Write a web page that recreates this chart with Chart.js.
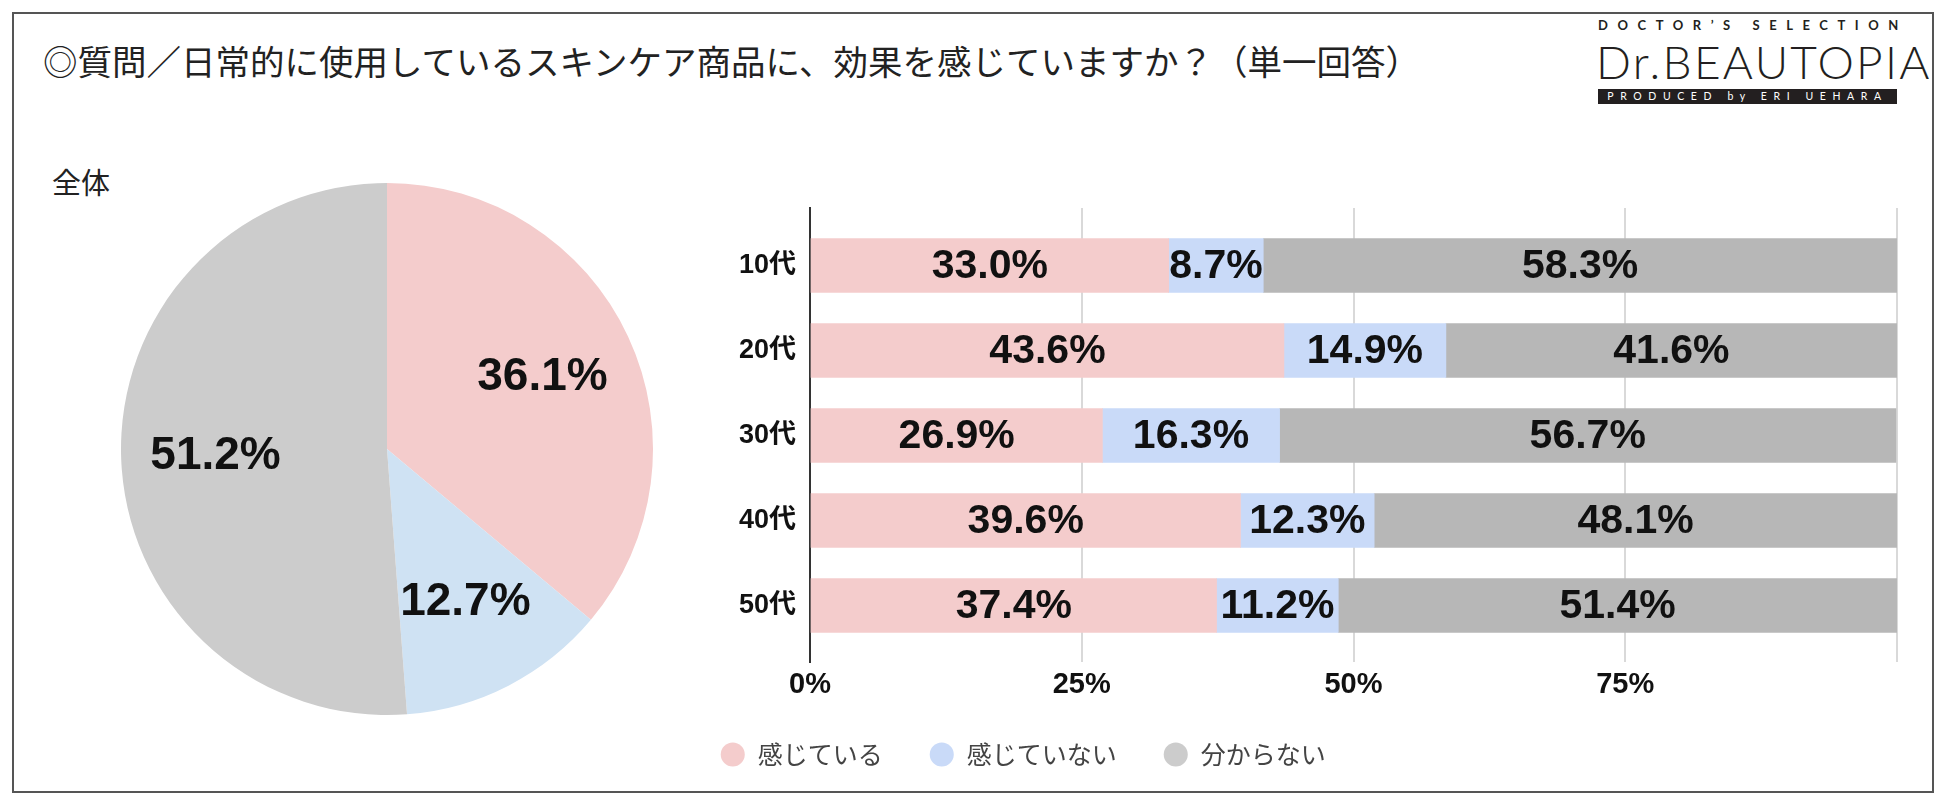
<!DOCTYPE html>
<html>
<head>
<meta charset="utf-8">
<script src="https://cdn.jsdelivr.net/npm/chart.js@4.4.1/dist/chart.umd.min.js"></script>
<style>
  body { margin: 0; background: #fff; }
  #wrap { position: relative; width: 1950px; height: 806px; overflow: hidden; background: #fff; }
  .frame { position: absolute; left: 12px; top: 12px; width: 1922px; height: 781px; border: 2px solid #555; box-sizing: border-box; }
  .title { position: absolute; left: 43px; top: 43px; font-family: "Noto Sans CJK JP", sans-serif; font-size: 34.5px; line-height: 34px; color: #222; white-space: nowrap; }
  .sub { position: absolute; left: 52px; top: 166px; font-family: "Noto Sans CJK JP", sans-serif; font-size: 29px; line-height: 30px; color: #222; }
  .logo1 { position: absolute; left: 1598px; top: 18px; width: 330px; font-family: Lato, "DejaVu Sans", sans-serif; font-weight: bold; font-size: 13px; line-height: 14px; letter-spacing: 9.55px; color: #231f20; white-space: nowrap; }
  .logo2 { position: absolute; left: 1596px; top: 38px; font-family: Lato, "DejaVu Sans", sans-serif; font-weight: 300; font-size: 46px; line-height: 48px; letter-spacing: 2.3px; color: #231f20; white-space: nowrap; }
  .logo3 { position: absolute; left: 1598px; top: 89px; width: 299px; height: 15px; background: #231f20; color: #fff; font-family: Lato, "DejaVu Sans", sans-serif; font-size: 10.5px; line-height: 15px; letter-spacing: 6.6px; text-align: center; white-space: nowrap; }
  #pie { position: absolute; left: 107px; top: 169px; }
  #bar { position: absolute; left: 660px; top: 198px; }
</style>
</head>
<body>
<div id="wrap">
  <div class="frame"></div>
  <div class="title">◎質問／日常的に使用しているスキンケア商品に、効果を感じていますか？（単一回答）</div>
  <div class="sub">全体</div>
  <div class="logo1">DOCTOR’S SELECTION</div>
  <div class="logo2">Dr.BEAUTOPIA</div>
  <div class="logo3">PRODUCED by ERI UEHARA</div>
  <canvas id="pie" width="560" height="560"></canvas>
  <canvas id="bar" width="1247" height="579"></canvas>
</div>
<script>
// ---- data ----
const seriesNames = ['感じている', '感じていない', '分からない'];
const pieValues = [36.1, 12.7, 51.2];
const ageGroups = ['10代', '20代', '30代', '40代', '50代'];
const feltValues = [33.0, 43.6, 26.9, 39.6, 37.4];
const notFeltValues = [8.7, 14.9, 16.3, 12.3, 11.2];
const unknownValues = [58.3, 41.6, 56.7, 48.1, 51.4];
const xTicks = [0, 25, 50, 75];
const xGrid = [0, 25, 50, 75, 100];

// ---- colours ----
const pieColors = ['#f4cccc', '#cfe2f3', '#cccccc'];
const barColors = ['#f4cccc', '#c9daf8', '#b7b7b7'];
const legendColors = ['#f4cccc', '#c9daf8', '#cccccc'];

const NUM_FONT = '"Liberation Sans", Arial, sans-serif';

const pieLabelPlugin = {
  id: 'pieLabels',
  afterDatasetsDraw(chart) {
    const ctx = chart.ctx;
    const meta = chart.getDatasetMeta(0);
    ctx.save();
    ctx.font = 'bold 46px ' + NUM_FONT;
    ctx.fillStyle = '#111';
    ctx.textAlign = 'center';
    ctx.textBaseline = 'middle';
    meta.data.forEach((arc, i) => {
      const p = arc.getProps(['x', 'y', 'startAngle', 'endAngle', 'outerRadius'], true);
      const mid = (p.startAngle + p.endAngle) / 2;
      const r = p.outerRadius * 0.645;
      ctx.fillText(pieValues[i].toFixed(1) + '%', p.x + Math.cos(mid) * r, p.y + Math.sin(mid) * r + 1);
    });
    ctx.restore();
  }
};

new Chart(document.getElementById('pie'), {
  type: 'pie',
  data: {
    labels: seriesNames,
    datasets: [{ data: pieValues, backgroundColor: pieColors, borderWidth: 0 }]
  },
  options: {
    responsive: false,
    animation: false,
    devicePixelRatio: 1,
    layout: { padding: 14 },
    plugins: { legend: { display: false }, tooltip: { enabled: false } }
  },
  plugins: [pieLabelPlugin]
});

const barLabelPlugin = {
  id: 'barLabels',
  afterDatasetsDraw(chart) {
    const ctx = chart.ctx;
    ctx.save();
    ctx.font = 'bold 41px ' + NUM_FONT;
    ctx.fillStyle = '#111';
    ctx.textAlign = 'center';
    ctx.textBaseline = 'middle';
    chart.data.datasets.forEach((ds, di) => {
      const meta = chart.getDatasetMeta(di);
      meta.data.forEach((bar, i) => {
        const p = bar.getProps(['x', 'y', 'base'], true);
        const right = Math.min(p.x, chart.chartArea.right);
        ctx.fillText(ds.data[i].x.toFixed(1) + '%', (right + p.base) / 2, p.y + 1);
      });
    });
    ctx.restore();
  }
};

const seriesValues = [feltValues, notFeltValues, unknownValues];

new Chart(document.getElementById('bar'), {
  type: 'bar',
  data: {
    datasets: seriesNames.map((name, s) => ({
      label: name,
      data: seriesValues[s].map((v, i) => ({ x: v, y: i })),
      backgroundColor: barColors[s],
      borderWidth: 0,
      barThickness: 54
    }))
  },
  options: {
    indexAxis: 'y',
    responsive: false,
    animation: false,
    devicePixelRatio: 1,
    layout: { padding: { left: 13.75, right: 10, top: 10, bottom: 0 } },
    scales: {
      x: {
        type: 'linear',
        stacked: true,
        min: 0,
        max: 100,
        afterBuildTicks: s => { s.ticks = xGrid.map(v => ({ value: v })); },
        afterFit: s => { s.height = 33.5; s.paddingLeft = 0; s.paddingRight = 0; },
        ticks: {
          callback: v => (xTicks.includes(v) ? v + '%' : ''),
          font: { family: NUM_FONT, size: 29, weight: 'bold' },
          color: '#111',
          padding: 6,
          maxRotation: 0
        },
        grid: { color: '#d9d9d9', lineWidth: 2, drawTicks: false },
        border: { display: false }
      },
      y: {
        type: 'linear',
        stacked: true,
        reverse: true,
        offset: false,
        min: -0.676,
        max: 4.665,
        afterBuildTicks: s => { s.ticks = ageGroups.map((_, i) => ({ value: i })); },
        afterFit: s => { s.width = 136.25; s.paddingTop = 0; s.paddingBottom = 0; },
        ticks: {
          callback: v => ageGroups[v],
          font: { family: '"Liberation Sans", Arial, "Noto Sans CJK JP", sans-serif', size: 27, weight: 'bold' },
          color: '#111',
          padding: 14
        },
        grid: { display: false, drawTicks: false, offset: false },
        border: { display: true, color: '#333', width: 2 }
      }
    },
    plugins: {
      tooltip: { enabled: false },
      legend: {
        position: 'bottom',
        align: 'start',
        labels: {
          usePointStyle: true,
          pointStyle: 'circle',
          boxWidth: 25,
          boxHeight: 17,
          padding: 46.5,
          color: '#444',
          font: { family: '"Noto Sans CJK JP", sans-serif', size: 25 },
          generateLabels: chart => {
            const items = Chart.defaults.plugins.legend.labels.generateLabels(chart);
            items.forEach((it, i) => { it.fillStyle = legendColors[i]; it.strokeStyle = legendColors[i]; it.lineWidth = 0; });
            return items;
          }
        }
      }
    }
  },
  plugins: [barLabelPlugin]
});
</script>
</body>
</html>
